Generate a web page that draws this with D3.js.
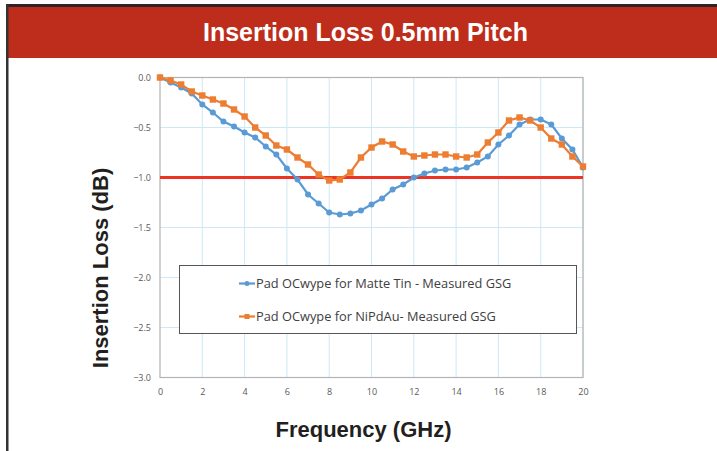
<!DOCTYPE html>
<html><head><meta charset="utf-8">
<script src="https://cdn.jsdelivr.net/npm/d3@7"></script>
<style>body{margin:0;background:#fff;}svg{display:block;}</style>
</head><body>
<svg id="c" width="717" height="451"></svg>
<script>
const freq = [0,0.5,1,1.5,2,2.5,3,3.5,4,4.5,5,5.5,6,6.5,7,7.5,8,8.5,9,9.5,10,10.5,11,11.5,12,12.5,13,13.5,14,14.5,15,15.5,16,16.5,17,17.5,18,18.5,19,19.5,20];
const matteTin = [0,-0.05,-0.10,-0.16,-0.27,-0.35,-0.44,-0.49,-0.55,-0.60,-0.69,-0.77,-0.91,-1.02,-1.17,-1.26,-1.35,-1.37,-1.36,-1.33,-1.27,-1.21,-1.12,-1.07,-1.00,-0.96,-0.93,-0.92,-0.92,-0.90,-0.85,-0.79,-0.67,-0.58,-0.47,-0.42,-0.42,-0.47,-0.61,-0.72,-0.90];
const niPdAu = [0,-0.03,-0.07,-0.14,-0.18,-0.22,-0.26,-0.32,-0.39,-0.50,-0.58,-0.68,-0.72,-0.80,-0.87,-0.97,-1.03,-1.02,-0.95,-0.80,-0.70,-0.64,-0.67,-0.74,-0.79,-0.78,-0.77,-0.77,-0.79,-0.80,-0.77,-0.65,-0.55,-0.43,-0.40,-0.43,-0.50,-0.61,-0.67,-0.79,-0.89];
const seriesNames = ["Pad OCwype for Matte Tin - Measured GSG","Pad OCwype for NiPdAu- Measured GSG"];
const xTicks = [0,2,4,6,8,10,12,14,16,18,20];
const yTicks = [0,-0.5,-1,-1.5,-2,-2.5,-3];
const refLevel = -1.0;
const title = "Insertion Loss 0.5mm Pitch";
const xTitle = "Frequency (GHz)";
const yTitle = "Insertion Loss (dB)";

const svg = d3.select("#c");
const blue = "#5b9bd5", orange = "#ed7d31";

// frame
svg.append("rect").attr("x",8).attr("y",7).attr("width",709).attr("height",51).attr("fill","#be2d1b");
svg.append("rect").attr("x",6).attr("y",4).attr("width",711).attr("height",3).attr("fill","#2f2424");
svg.append("rect").attr("x",6).attr("y",4).attr("width",2.5).attr("height",447).attr("fill","#333");
svg.append("text").attr("x",365.5).attr("y",41).attr("text-anchor","middle")
  .attr("font-family","Liberation Sans, Arial, sans-serif").attr("font-weight","bold")
  .attr("font-size",25).attr("fill","#fff").text(title);

const x = d3.scaleLinear().domain([0,20]).range([160,583]);
const y = d3.scaleLinear().domain([-3,0]).range([377.5,77.5]);

// grid
const g = svg.append("g");
g.selectAll(".vg").data(xTicks.slice(1)).join("line")
  .attr("x1",d=>x(d)).attr("x2",d=>x(d)).attr("y1",y(0)).attr("y2",y(-3))
  .attr("stroke","#cde8f7").attr("stroke-width",1);
g.selectAll(".hg").data(yTicks.slice(0,-1)).join("line")
  .attr("x1",x(0)).attr("x2",x(20)).attr("y1",d=>y(d)).attr("y2",d=>y(d))
  .attr("stroke","#cde8f7").attr("stroke-width",1);
g.append("rect").attr("x",x(0)).attr("y",y(0)).attr("width",x(20)-x(0)).attr("height",y(-3)-y(0))
  .attr("fill","none").attr("stroke","#b3b3b3").attr("stroke-width",1.2);

// axes
const xAxis = d3.axisBottom(x).tickValues(xTicks).tickSize(0).tickPadding(11).tickFormat(d3.format("d"));
const ax = svg.append("g").attr("transform",`translate(0,${y(-3)})`).call(xAxis);
const yAxis = d3.axisLeft(y).tickValues(yTicks).tickSize(0).tickPadding(9).tickFormat(d3.format(".1f"));
const ay = svg.append("g").attr("transform",`translate(${x(0)},0)`).call(yAxis);
[ax,ay].forEach(a=>{a.select(".domain").remove();
  a.selectAll("text").attr("font-family","Open Sans, Liberation Sans, sans-serif").attr("font-size",9).attr("fill","#595959");});

// reference line
svg.append("line").attr("x1",x(0)).attr("x2",x(20)).attr("y1",y(refLevel)).attr("y2",y(refLevel))
  .attr("stroke","#ee3224").attr("stroke-width",3);

const line = d3.line().x((d,i)=>x(freq[i])).y(d=>y(d));
svg.append("path").datum(matteTin).attr("d",line).attr("fill","none").attr("stroke",blue).attr("stroke-width",2.2);
svg.append("path").datum(niPdAu).attr("d",line).attr("fill","none").attr("stroke",orange).attr("stroke-width",2.2);
svg.selectAll(".mb").data(matteTin).join("circle").attr("cx",(d,i)=>x(freq[i])).attr("cy",d=>y(d)).attr("r",3).attr("fill",blue);
svg.selectAll(".mo").data(niPdAu).join("rect").attr("x",(d,i)=>x(freq[i])-3.2).attr("y",d=>y(d)-3.2).attr("width",6.4).attr("height",6.4).attr("fill",orange);

// legend
const lg = svg.append("g");
lg.append("rect").attr("x",179.5).attr("y",265.5).attr("width",397).attr("height",68).attr("fill","#fff").attr("stroke","#555").attr("stroke-width",1);
const ly = [283.5, 316.5];
[blue,orange].forEach((c,i)=>{
  lg.append("line").attr("x1",239).attr("x2",255).attr("y1",ly[i]).attr("y2",ly[i]).attr("stroke",c).attr("stroke-width",2.2);
  if(i===0) lg.append("circle").attr("cx",247).attr("cy",ly[i]).attr("r",2.5).attr("fill",c);
  else lg.append("rect").attr("x",244.5).attr("y",ly[i]-2.5).attr("width",5).attr("height",5).attr("fill",c);
  lg.append("text").attr("x",256).attr("y",ly[i]).attr("dy","0.35em")
    .attr("font-family","Open Sans, Liberation Sans, sans-serif").attr("font-size",12.8).attr("fill","#404040").text(seriesNames[i]);
});

// axis titles
svg.append("text").attr("x",363.5).attr("y",437).attr("text-anchor","middle")
  .attr("font-family","Liberation Sans, Arial, sans-serif").attr("font-weight","bold").attr("font-size",22).attr("fill","#231f20").text(xTitle);
svg.append("text").attr("transform","translate(108,268) rotate(-90)").attr("text-anchor","middle")
  .attr("font-family","Liberation Sans, Arial, sans-serif").attr("font-weight","bold").attr("font-size",22).attr("fill","#231f20").text(yTitle);
</script>
</body></html>
